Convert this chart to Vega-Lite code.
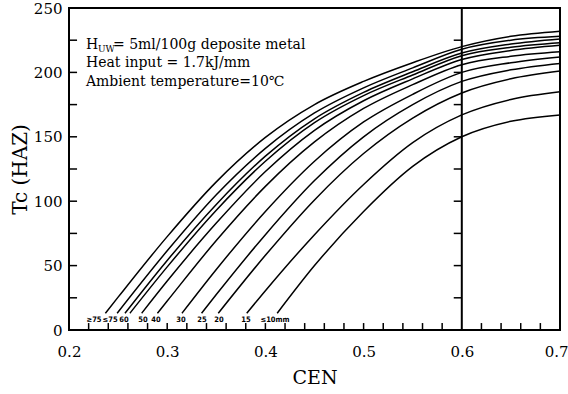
{
  "$schema": "https://vega.github.io/schema/vega-lite/v6.json",
  "width": 491,
  "height": 322,
  "autosize": {"type": "none"},
  "padding": {"left": 69, "right": 8, "top": 8, "bottom": 64},
  "background": "white",
  "config": {
    "view": {"stroke": "black", "strokeWidth": 2},
    "axis": {"grid": false, "labelColor": "black", "titleColor": "black", "tickColor": "black", "labelFont": "DejaVu Serif", "titleFont": "DejaVu Serif", "titleFontWeight": "normal", "labelFlush": false}
  },
  "datasets": {
    "curves": [
      {"id": 1, "c": 0.237, "T": 13}, {"id": 1, "c": 0.25, "T": 25.5}, {"id": 1, "c": 0.3, "T": 72.5}, {"id": 1, "c": 0.35, "T": 115}, {"id": 1, "c": 0.4, "T": 149.5}, {"id": 1, "c": 0.45, "T": 175}, {"id": 1, "c": 0.5, "T": 193}, {"id": 1, "c": 0.55, "T": 207.5}, {"id": 1, "c": 0.6, "T": 220}, {"id": 1, "c": 0.65, "T": 228}, {"id": 1, "c": 0.7, "T": 232},
      {"id": 2, "c": 0.249, "T": 13}, {"id": 2, "c": 0.3, "T": 61.5}, {"id": 2, "c": 0.35, "T": 105}, {"id": 2, "c": 0.4, "T": 141}, {"id": 2, "c": 0.45, "T": 168.5}, {"id": 2, "c": 0.5, "T": 188}, {"id": 2, "c": 0.55, "T": 203.5}, {"id": 2, "c": 0.6, "T": 218}, {"id": 2, "c": 0.65, "T": 225}, {"id": 2, "c": 0.7, "T": 228},
      {"id": 3, "c": 0.257, "T": 13}, {"id": 3, "c": 0.3, "T": 54}, {"id": 3, "c": 0.35, "T": 97.5}, {"id": 3, "c": 0.4, "T": 135}, {"id": 3, "c": 0.45, "T": 164}, {"id": 3, "c": 0.5, "T": 184.5}, {"id": 3, "c": 0.55, "T": 200.5}, {"id": 3, "c": 0.6, "T": 215}, {"id": 3, "c": 0.65, "T": 222}, {"id": 3, "c": 0.7, "T": 226},
      {"id": 4, "c": 0.262, "T": 13}, {"id": 4, "c": 0.3, "T": 49}, {"id": 4, "c": 0.35, "T": 93}, {"id": 4, "c": 0.4, "T": 131}, {"id": 4, "c": 0.45, "T": 161}, {"id": 4, "c": 0.5, "T": 182}, {"id": 4, "c": 0.55, "T": 198}, {"id": 4, "c": 0.6, "T": 213}, {"id": 4, "c": 0.65, "T": 219.5}, {"id": 4, "c": 0.7, "T": 223},
      {"id": 5, "c": 0.274, "T": 13}, {"id": 5, "c": 0.3, "T": 38}, {"id": 5, "c": 0.35, "T": 83}, {"id": 5, "c": 0.4, "T": 123}, {"id": 5, "c": 0.45, "T": 155}, {"id": 5, "c": 0.5, "T": 178}, {"id": 5, "c": 0.55, "T": 195}, {"id": 5, "c": 0.6, "T": 210}, {"id": 5, "c": 0.65, "T": 217}, {"id": 5, "c": 0.7, "T": 221},
      {"id": 6, "c": 0.29, "T": 13}, {"id": 6, "c": 0.3, "T": 22.5}, {"id": 6, "c": 0.35, "T": 69.5}, {"id": 6, "c": 0.4, "T": 111.5}, {"id": 6, "c": 0.45, "T": 146}, {"id": 6, "c": 0.5, "T": 172}, {"id": 6, "c": 0.55, "T": 190.5}, {"id": 6, "c": 0.6, "T": 206}, {"id": 6, "c": 0.65, "T": 212.5}, {"id": 6, "c": 0.7, "T": 216},
      {"id": 7, "c": 0.315, "T": 13}, {"id": 7, "c": 0.35, "T": 47}, {"id": 7, "c": 0.4, "T": 92}, {"id": 7, "c": 0.45, "T": 131}, {"id": 7, "c": 0.5, "T": 161.5}, {"id": 7, "c": 0.55, "T": 183}, {"id": 7, "c": 0.6, "T": 200}, {"id": 7, "c": 0.65, "T": 207.5}, {"id": 7, "c": 0.7, "T": 212},
      {"id": 8, "c": 0.335, "T": 13}, {"id": 8, "c": 0.35, "T": 27.5}, {"id": 8, "c": 0.4, "T": 74}, {"id": 8, "c": 0.45, "T": 116}, {"id": 8, "c": 0.5, "T": 150}, {"id": 8, "c": 0.55, "T": 175}, {"id": 8, "c": 0.6, "T": 193}, {"id": 8, "c": 0.65, "T": 202}, {"id": 8, "c": 0.7, "T": 207},
      {"id": 9, "c": 0.352, "T": 13}, {"id": 9, "c": 0.4, "T": 58}, {"id": 9, "c": 0.45, "T": 101}, {"id": 9, "c": 0.5, "T": 137}, {"id": 9, "c": 0.55, "T": 164.5}, {"id": 9, "c": 0.6, "T": 184}, {"id": 9, "c": 0.65, "T": 195}, {"id": 9, "c": 0.7, "T": 201},
      {"id": 10, "c": 0.381, "T": 13}, {"id": 10, "c": 0.4, "T": 30.5}, {"id": 10, "c": 0.45, "T": 74}, {"id": 10, "c": 0.5, "T": 113}, {"id": 10, "c": 0.55, "T": 145.5}, {"id": 10, "c": 0.6, "T": 167}, {"id": 10, "c": 0.65, "T": 179}, {"id": 10, "c": 0.7, "T": 185},
      {"id": 11, "c": 0.412, "T": 13}, {"id": 11, "c": 0.45, "T": 50}, {"id": 11, "c": 0.5, "T": 92}, {"id": 11, "c": 0.55, "T": 127}, {"id": 11, "c": 0.6, "T": 150}, {"id": 11, "c": 0.65, "T": 162}, {"id": 11, "c": 0.7, "T": 167}
    ],
    "labels": [
      {"c": 0.2255, "T": 7.4, "t": "≥75"},
      {"c": 0.2418, "T": 7.4, "t": "≤75"},
      {"c": 0.256, "T": 7.4, "t": "60"},
      {"c": 0.2754, "T": 7.4, "t": "50"},
      {"c": 0.2886, "T": 7.4, "t": "40"},
      {"c": 0.3141, "T": 7.4, "t": "30"},
      {"c": 0.3354, "T": 7.4, "t": "25"},
      {"c": 0.3527, "T": 7.4, "t": "20"},
      {"c": 0.3802, "T": 7.4, "t": "15"},
      {"c": 0.4098, "T": 7.4, "t": "≤10mm"}
    ],
    "notes": [
      {"c": 0.2173, "T": 221.3, "t": "H"},
      {"c": 0.2448, "T": 221.3, "t": "= 5ml/100g deposite metal"},
      {"c": 0.2173, "T": 207.3, "t": "Heat input = 1.7kJ/mm"},
      {"c": 0.2173, "T": 192.5, "t": "Ambient temperature=10℃"}
    ],
    "subs": [
      {"c": 0.2295, "T": 218, "t": "UW"}
    ],
    "hticks": [
      {"c": 0.5918, "c2": 0.6, "T": 25}, {"c": 0.5918, "c2": 0.6, "T": 50}, {"c": 0.5918, "c2": 0.6, "T": 75}, {"c": 0.5918, "c2": 0.6, "T": 100}, {"c": 0.5918, "c2": 0.6, "T": 125}, {"c": 0.5918, "c2": 0.6, "T": 150}, {"c": 0.5918, "c2": 0.6, "T": 175}, {"c": 0.5918, "c2": 0.6, "T": 200}, {"c": 0.5918, "c2": 0.6, "T": 225},
      {"c": 0.2, "c2": 0.2082, "T": 25}, {"c": 0.2, "c2": 0.2082, "T": 50}, {"c": 0.2, "c2": 0.2082, "T": 75}, {"c": 0.2, "c2": 0.2082, "T": 100}, {"c": 0.2, "c2": 0.2082, "T": 125}, {"c": 0.2, "c2": 0.2082, "T": 150}, {"c": 0.2, "c2": 0.2082, "T": 175}, {"c": 0.2, "c2": 0.2082, "T": 200}, {"c": 0.2, "c2": 0.2082, "T": 225}
    ],
    "vticks": [
      {"c": 0.22, "T": 0, "T2": 5.4}, {"c": 0.24, "T": 0, "T2": 5.4}, {"c": 0.26, "T": 0, "T2": 5.4}, {"c": 0.28, "T": 0, "T2": 5.4}, {"c": 0.3, "T": 0, "T2": 5.4}, {"c": 0.32, "T": 0, "T2": 5.4}, {"c": 0.34, "T": 0, "T2": 5.4}, {"c": 0.36, "T": 0, "T2": 5.4}, {"c": 0.38, "T": 0, "T2": 5.4}, {"c": 0.4, "T": 0, "T2": 5.4}, {"c": 0.42, "T": 0, "T2": 5.4}, {"c": 0.44, "T": 0, "T2": 5.4}, {"c": 0.46, "T": 0, "T2": 5.4}, {"c": 0.48, "T": 0, "T2": 5.4}, {"c": 0.5, "T": 0, "T2": 5.4}, {"c": 0.52, "T": 0, "T2": 5.4}, {"c": 0.54, "T": 0, "T2": 5.4}, {"c": 0.56, "T": 0, "T2": 5.4}, {"c": 0.58, "T": 0, "T2": 5.4}, {"c": 0.62, "T": 0, "T2": 5.4}, {"c": 0.64, "T": 0, "T2": 5.4}, {"c": 0.66, "T": 0, "T2": 5.4}, {"c": 0.68, "T": 0, "T2": 5.4}
    ],
    "rule06": [{"c": 0.6}]
  },
  "resolve": {"axis": {"x": "independent", "y": "independent"}},
  "layer": [
    {
      "data": {"name": "curves"},
      "mark": {"type": "line", "interpolate": "monotone", "color": "black", "strokeWidth": 1.5},
      "encoding": {
        "x": {"field": "c", "type": "quantitative", "scale": {"domain": [0.2, 0.7], "nice": false, "zero": false},
          "axis": {"orient": "bottom", "values": [0.2, 0.3, 0.4, 0.5, 0.6, 0.7], "format": ".1f", "ticks": false, "domain": false, "labelFontSize": 15, "labelPadding": 14, "labelFlush": false,
            "labelAlign": {"condition": {"test": "datum.value >= 0.69", "value": "right"}, "value": "center"},
            "labelOffset": {"condition": {"test": "datum.value >= 0.69", "value": 8}, "value": 0},
            "title": "CEN", "titleFontSize": 19, "titlePadding": 9}},
        "y": {"field": "T", "type": "quantitative", "scale": {"domain": [0, 250], "nice": false},
          "axis": {"orient": "left", "values": [0, 50, 100, 150, 200, 250], "ticks": false, "domain": false, "labelFontSize": 15, "labelPadding": 7, "labelFlush": false, "title": "Tc (HAZ)", "titleFontSize": 20, "titlePadding": 3}},
        "detail": {"field": "id", "type": "nominal"}
      }
    },
    {
      "data": {"name": "hticks"},
      "mark": {"type": "rule", "color": "black", "strokeWidth": 1.5},
      "encoding": {
        "x": {"field": "c", "type": "quantitative", "axis": null},
        "x2": {"field": "c2"},
        "y": {"field": "T", "type": "quantitative", "axis": null}
      }
    },
    {
      "data": {"name": "vticks"},
      "mark": {"type": "rule", "color": "black", "strokeWidth": 1.5},
      "encoding": {
        "x": {"field": "c", "type": "quantitative", "axis": null},
        "y": {"field": "T", "type": "quantitative", "axis": null},
        "y2": {"field": "T2"}
      }
    },
    {
      "data": {"name": "rule06"},
      "mark": {"type": "rule", "color": "black", "strokeWidth": 2},
      "encoding": {"x": {"field": "c", "type": "quantitative", "axis": null}}
    },
    {
      "data": {"name": "labels"},
      "mark": {"type": "text", "font": "DejaVu Sans Condensed, DejaVu Sans", "fontWeight": "bold", "fontSize": 7.5, "align": "center", "baseline": "middle", "color": "black"},
      "encoding": {
        "x": {"field": "c", "type": "quantitative", "axis": null},
        "y": {"field": "T", "type": "quantitative", "axis": null},
        "text": {"field": "t"}
      }
    },
    {
      "data": {"name": "notes"},
      "mark": {"type": "text", "font": "DejaVu Serif", "fontSize": 14, "align": "left", "baseline": "middle", "color": "black"},
      "encoding": {
        "x": {"field": "c", "type": "quantitative", "axis": null},
        "y": {"field": "T", "type": "quantitative", "axis": null},
        "text": {"field": "t"}
      }
    },
    {
      "data": {"name": "subs"},
      "mark": {"type": "text", "font": "DejaVu Serif", "fontSize": 9, "align": "left", "baseline": "middle", "color": "black"},
      "encoding": {
        "x": {"field": "c", "type": "quantitative", "axis": null},
        "y": {"field": "T", "type": "quantitative", "axis": null},
        "text": {"field": "t"}
      }
    }
  ]
}
